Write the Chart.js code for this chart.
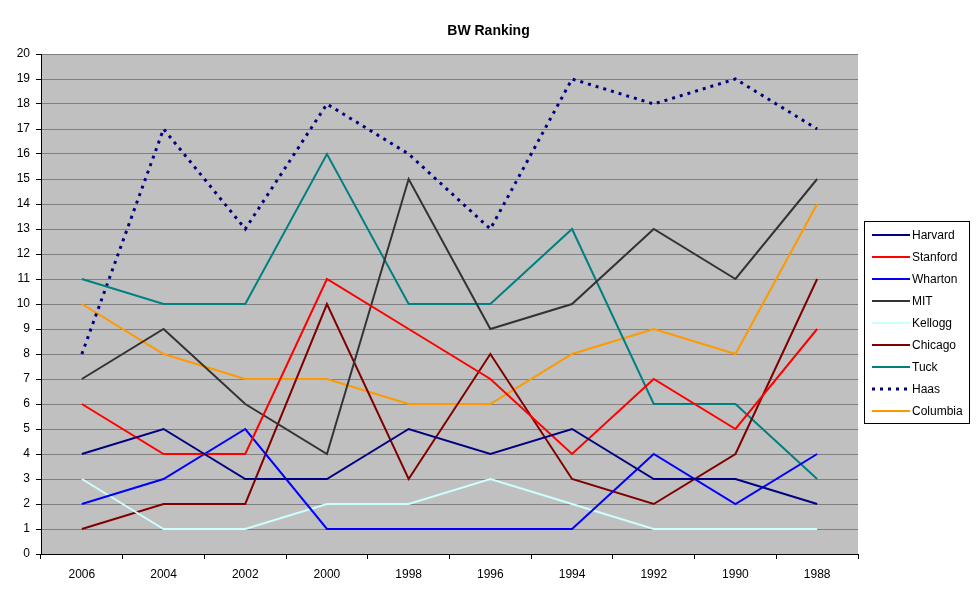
<!DOCTYPE html>
<html>
<head>
<meta charset="utf-8">
<script src="https://cdn.jsdelivr.net/npm/chart.js@4/dist/chart.umd.min.js"></script>
<style>
  body { margin: 0; background: #fff; }
  #wrap { width: 977px; height: 600px; }
</style>
</head>
<body>
<div id="wrap"><canvas id="bwChart"></canvas></div>
<script>
const years = ["2006", "2004", "2002", "2000", "1998", "1996", "1994", "1992", "1990", "1988"];

const harvard  = [4, 5, 3, 3, 5, 4, 5, 3, 3, 2];
const stanford = [6, 4, 4, 11, 9, 7, 4, 7, 5, 9];
const wharton  = [2, 3, 5, 1, 1, 1, 1, 4, 2, 4];
const mit      = [7, 9, 6, 4, 15, 9, 10, 13, 11, 15];
const kellogg  = [3, 1, 1, 2, 2, 3, 2, 1, 1, 1];
const chicago  = [1, 2, 2, 10, 3, 8, 3, 2, 4, 11];
const tuck     = [11, 10, 10, 16, 10, 10, 13, 6, 6, 3];
const haas     = [8, 17, 13, 18, 16, 13, 19, 18, 19, 17];
const columbia = [10, 8, 7, 7, 6, 6, 8, 9, 8, 14];

const FONT = "Arial, 'Liberation Sans', sans-serif";

function line(label, data, color, dash) {
  return {
    label: label,
    data: data,
    borderColor: color,
    backgroundColor: color,
    borderWidth: dash ? 3 : 2,
    borderDash: dash || [],
    pointRadius: 0,
    tension: 0,
    fill: false
  };
}

// title centred on the whole page, like the Excel original
const pageTitle = {
  id: "pageTitle",
  afterDraw(chart) {
    const ctx = chart.ctx;
    ctx.save();
    ctx.fillStyle = "#000";
    ctx.font = "bold 14px " + FONT;
    ctx.textAlign = "center";
    ctx.textBaseline = "middle";
    ctx.fillText("BW Ranking", chart.width / 2, 31);
    ctx.restore();
  }
};

// legend drawn by hand, Excel style box on the right
const boxLegend = {
  id: "boxLegend",
  afterDraw(chart) {
    const ctx = chart.ctx;
    const x = 864, y = 221, w = 105, h = 202;
    ctx.save();
    ctx.fillStyle = "#fff";
    ctx.fillRect(x, y, w, h);
    ctx.strokeStyle = "#000";
    ctx.lineWidth = 1;
    ctx.strokeRect(x + 0.5, y + 0.5, w, h);
    ctx.font = "12px " + FONT;
    ctx.textBaseline = "middle";
    chart.data.datasets.forEach((ds, i) => {
      const cy = 235 + i * 22;
      ctx.beginPath();
      ctx.strokeStyle = ds.borderColor;
      ctx.lineWidth = ds.borderWidth;
      ctx.setLineDash(ds.borderDash);
      ctx.moveTo(872, cy);
      ctx.lineTo(910, cy);
      ctx.stroke();
      ctx.setLineDash([]);
      ctx.fillStyle = "#000";
      ctx.fillText(ds.label, 912, cy + 1);
    });
    ctx.restore();
  }
};

const plotBg = {
  id: "plotBg",
  beforeDraw(chart) {
    const a = chart.chartArea;
    chart.ctx.save();
    chart.ctx.fillStyle = "#c0c0c0";
    chart.ctx.fillRect(a.left, a.top, a.right - a.left, a.bottom - a.top);
    chart.ctx.restore();
  }
};

new Chart(document.getElementById("bwChart"), {
  type: "line",
  data: {
    labels: years,
    datasets: [
      line("Harvard", harvard, "#000080"),
      line("Stanford", stanford, "#ff0000"),
      line("Wharton", wharton, "#0000ff"),
      line("MIT", mit, "#333333"),
      line("Kellogg", kellogg, "#ccffff"),
      line("Chicago", chicago, "#800000"),
      line("Tuck", tuck, "#008080"),
      line("Haas", haas, "#000080", [3, 5]),
      line("Columbia", columbia, "#ff9900")
    ]
  },
  options: {
    responsive: true,
    maintainAspectRatio: false,
    animation: false,
    layout: { padding: { left: 0, right: 119, top: 54, bottom: 0 } },
    plugins: {
      legend: { display: false },
      tooltip: { enabled: false },
      title: { display: false }
    },
    scales: {
      x: {
        offset: true,
        grid: {
          offset: true,
          drawOnChartArea: false,
          drawTicks: true,
          tickLength: 5,
          tickColor: "#000"
        },
        border: { display: true, color: "#000", width: 1 },
        ticks: {
          color: "#000",
          font: { family: FONT, size: 12 },
          padding: 8,
          maxRotation: 0
        },
        afterFit(scale) { scale.height = 46; }
      },
      y: {
        min: 0,
        max: 20,
        ticks: {
          stepSize: 1,
          color: "#000",
          font: { family: FONT, size: 12 },
          padding: 6
        },
        grid: {
          color: "#808080",
          drawTicks: true,
          tickLength: 5,
          tickColor: "#000"
        },
        border: { display: true, color: "#000", width: 1 },
        afterFit(scale) { scale.width = 41; }
      }
    }
  },
  plugins: [plotBg, boxLegend, pageTitle]
});
</script>
</body>
</html>
